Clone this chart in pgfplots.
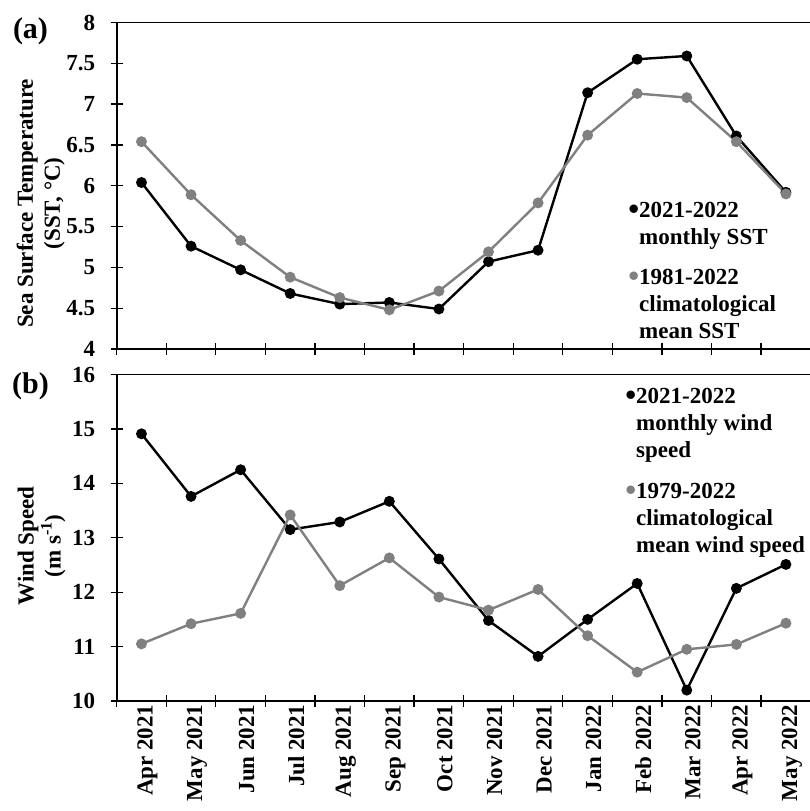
\documentclass[border=0pt]{standalone}
\usepackage{fontspec}
\setmainfont{Liberation Serif}
\usepackage{pgfplots}
\pgfplotsset{compat=1.18}

\definecolor{climgray}{RGB}{128,128,128}
\newcommand\fs{\fontsize{23}{27}\selectfont\bfseries}
\newcommand\legdot[1]{\llap{\raisebox{-0.1em}{\scalebox{1.35}{\textcolor{#1}{•}}}}}

\pgfplotsset{
  panel/.style={
    scale only axis, width=694pt, height=326.5pt,
    xmin=-0.5, xmax=13.5,
    axis x line*=bottom, axis y line*=left,
    axis line style={-, line width=1.6pt},
    xtick={-0.5,0.5,...,13.5}, xticklabels={},
    tick align=center, major tick length=12pt,
    tick style={black, line width=1.3pt},
    /pgf/number format/assume math mode=true,
    tick label style={font=\fs},
    yticklabel style={xshift=-12pt},
    label style={font=\fs, align=center},
  },
  obs/.style={black, line width=2.4pt, mark=*, mark size=4.2pt},
  clim/.style={climgray, line width=2.4pt, mark=*, mark size=4.2pt},
}

\begin{document}
\begin{tikzpicture}
\path[use as bounding box] (0pt,0pt) rectangle (809pt,-811pt);

% (a) sea surface temperature
\begin{axis}[panel, at={(116.7pt,-349pt)}, anchor=south west,
    ymin=4, ymax=8, ytick={4,4.5,...,8},
    ylabel={Sea Surface Temperature\\(SST, °C)},
    ylabel style={at={(rel axis cs:0,0.446)}, anchor=center, yshift=76pt},
]
\addplot[obs] coordinates {
 (0,6.04) (1,5.26) (2,4.97) (3,4.68) (4,4.55) (5,4.57) (6,4.49)
 (7,5.07) (8,5.21) (9,7.14) (10,7.55) (11,7.59) (12,6.61) (13,5.92)};
\addplot[clim] coordinates {
 (0,6.54) (1,5.89) (2,5.33) (3,4.88) (4,4.63) (5,4.48) (6,4.71)
 (7,5.19) (8,5.79) (9,6.62) (10,7.13) (11,7.08) (12,6.54) (13,5.90)};
\draw[line width=1.6pt] (rel axis cs:0,1) -- (rel axis cs:1,1);
\end{axis}

% (b) wind speed
\begin{axis}[panel, at={(116.7pt,-701pt)}, anchor=south west,
    ymin=10, ymax=16, ytick={10,11,...,16},
    ylabel={Wind Speed\\(m s\textsuperscript{-1})},
    ylabel style={at={(rel axis cs:0,0.475)}, anchor=center, yshift=75pt},
    extra x ticks={0,1,...,13},
    extra x tick labels={Apr 2021,May 2021,Jun 2021,Jul 2021,Aug 2021,Sep 2021,Oct 2021,
        Nov 2021,Dec 2021,Jan 2022,Feb 2022,Mar 2022,Apr 2022,May 2022},
    extra x tick style={major tick length=0pt,
        tick label style={rotate=90, anchor=east, yshift=-6pt}},
]
\addplot[obs] coordinates {
 (0,14.91) (1,13.76) (2,14.25) (3,13.15) (4,13.29) (5,13.67) (6,12.61)
 (7,11.48) (8,10.82) (9,11.50) (10,12.16) (11,10.20) (12,12.07) (13,12.51)};
\addplot[clim] coordinates {
 (0,11.05) (1,11.42) (2,11.61) (3,13.42) (4,12.12) (5,12.63) (6,11.91)
 (7,11.67) (8,12.05) (9,11.20) (10,10.53) (11,10.95) (12,11.04) (13,11.43)};
\draw[line width=1.6pt] (rel axis cs:0,1) -- (rel axis cs:1,1);
\end{axis}

% panel letters
\node[font=\fontsize{30}{34}\selectfont\bfseries] at (30.5pt,-31pt) {(a)};
\node[font=\fontsize{30}{34}\selectfont\bfseries] at (30.5pt,-386pt) {(b)};

\begin{scope}[every node/.style={font=\fs, anchor=base west, inner sep=0pt}]
% legend (a)
\node at (639pt,-217.5pt) {\legdot{black}2021-2022};
\node at (639pt,-244.5pt) {monthly SST};
\node at (639pt,-284.5pt) {\legdot{climgray}1981-2022};
\node at (639pt,-311.5pt) {climatological};
\node at (639pt,-338.5pt) {mean SST};
% legend (b)
\node at (636pt,-403.5pt) {\legdot{black}2021-2022};
\node at (636pt,-430.5pt) {monthly wind};
\node at (636pt,-457.5pt) {speed};
\node at (636pt,-498.5pt) {\legdot{climgray}1979-2022};
\node at (636pt,-525.5pt) {climatological};
\node at (636pt,-552.5pt) {mean wind speed};
\end{scope}
\end{tikzpicture}
\end{document}
